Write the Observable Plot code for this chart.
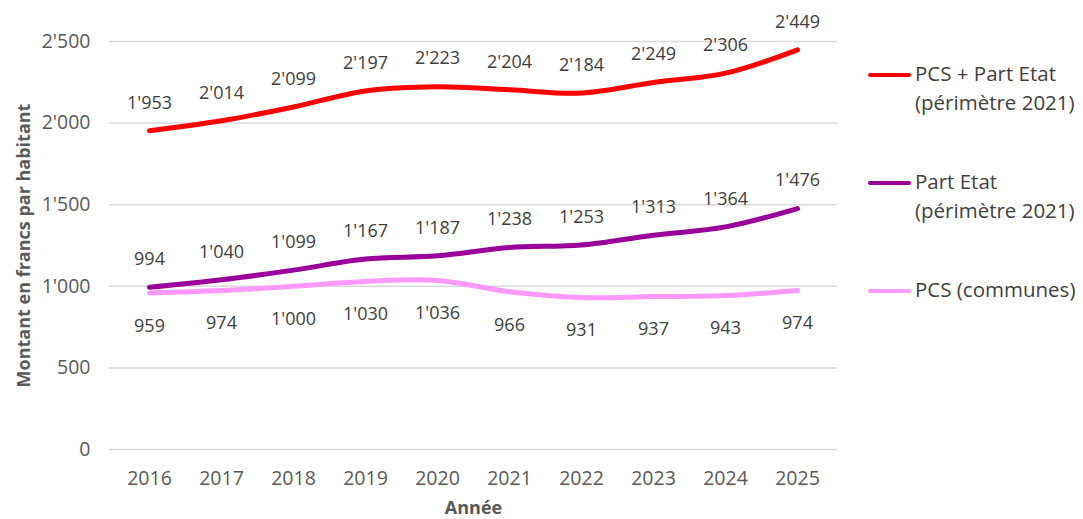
<!DOCTYPE html>
<html>
<head>
<meta charset="utf-8">
<script src="https://cdn.jsdelivr.net/npm/d3@7"></script>
<script src="https://cdn.jsdelivr.net/npm/@observablehq/plot@0.6"></script>
<style>
  html, body { margin: 0; padding: 0; background: #fff; }
  #wrap { position: relative; width: 1083px; height: 519px; font-family: "Open Sans", sans-serif; }
  #legend { position: absolute; left: 868px; top: 59px; font-size: 20.5px; color: #404040; line-height: 29px; }
  .item { display: flex; align-items: flex-start; }
  .sw { width: 43px; height: 4px; border-radius: 2px; margin-top: 14px; margin-right: 4px; flex: none; }
  svg [aria-label="y-axis label"], svg [aria-label="x-axis label"] { font-weight: bold; font-size: 18px; }
  svg [aria-label="y-axis tick label"], svg [aria-label="x-axis tick label"] { font-size: 19.5px; }
</style>
</head>
<body>
<div id="wrap"><div id="chart"></div><div id="legend"></div></div>
<script>
const years = [2016, 2017, 2018, 2019, 2020, 2021, 2022, 2023, 2024, 2025];
const pcsPartEtat = [1953, 2014, 2099, 2197, 2223, 2204, 2184, 2249, 2306, 2449];
const partEtat = [994, 1040, 1099, 1167, 1187, 1238, 1253, 1313, 1364, 1476];
const pcsCommunes = [959, 974, 1000, 1030, 1036, 966, 931, 937, 943, 974];
const seriesNames = ["PCS + Part Etat\n(périmètre 2021)", "Part Etat\n(périmètre 2021)", "PCS (communes)"];
const seriesColors = ["#ff0000", "#990099", "#ff99ff"];
const yTicks = [0, 500, 1000, 1500, 2000, 2500];

const fmt = d3.formatLocale({decimal: ".", thousands: "'", grouping: [3], currency: ["", ""]}).format(",");

const allSeries = [pcsPartEtat, partEtat, pcsCommunes];
const data = allSeries.flatMap((vals, i) => vals.map((v, j) => ({year: years[j], value: v, series: seriesNames[i], idx: i})));

const chart = Plot.plot({
  width: 1083,
  height: 519,
  marginLeft: 109,
  marginRight: 246,
  marginTop: 41,
  marginBottom: 70,
  style: {fontFamily: "Open Sans, sans-serif", fontSize: "18px", color: "#595959", background: "#fff"},
  x: {type: "point", domain: years, padding: 0.5},
  y: {domain: [0, 2500]},
  color: {domain: seriesNames, range: seriesColors},
  marks: [
    Plot.gridY(yTicks, {stroke: "#d9d9d9", strokeOpacity: 1, strokeWidth: 1.5}),
    Plot.axisY(yTicks, {tickSize: 0, tickPadding: 19, tickFormat: fmt, fill: "#595959", label: "Montant en francs par habitant", labelAnchor: "center", labelArrow: false, labelOffset: 92}),
    Plot.axisX(years, {tickSize: 0, tickPadding: 22, tickFormat: d => String(d), fill: "#595959", label: "Année", labelAnchor: "center", labelArrow: false, labelOffset: 64}),
    Plot.line(data, {x: "year", y: "value", z: "series", stroke: "series", strokeWidth: 5, curve: "catmull-rom", strokeLinecap: "round"}),
    Plot.text(data.filter(d => d.idx < 2), {x: "year", y: "value", text: d => fmt(d.value), dy: -28, fill: "#404040", fontSize: 18}),
    Plot.text(data.filter(d => d.idx === 2), {x: "year", y: "value", text: d => fmt(d.value), dy: 33, fill: "#404040", fontSize: 18})
  ]
});
document.getElementById("chart").appendChild(chart);

const legend = document.getElementById("legend");
const gaps = [50, 50, 0];
seriesNames.forEach((name, i) => {
  const item = document.createElement("div");
  item.className = "item";
  item.style.marginBottom = gaps[i] + "px";
  const sw = document.createElement("div");
  sw.className = "sw";
  sw.style.background = seriesColors[i];
  const label = document.createElement("div");
  label.innerHTML = name.split("\n").join("<br>");
  item.appendChild(sw);
  item.appendChild(label);
  legend.appendChild(item);
});
</script>
</body>
</html>
